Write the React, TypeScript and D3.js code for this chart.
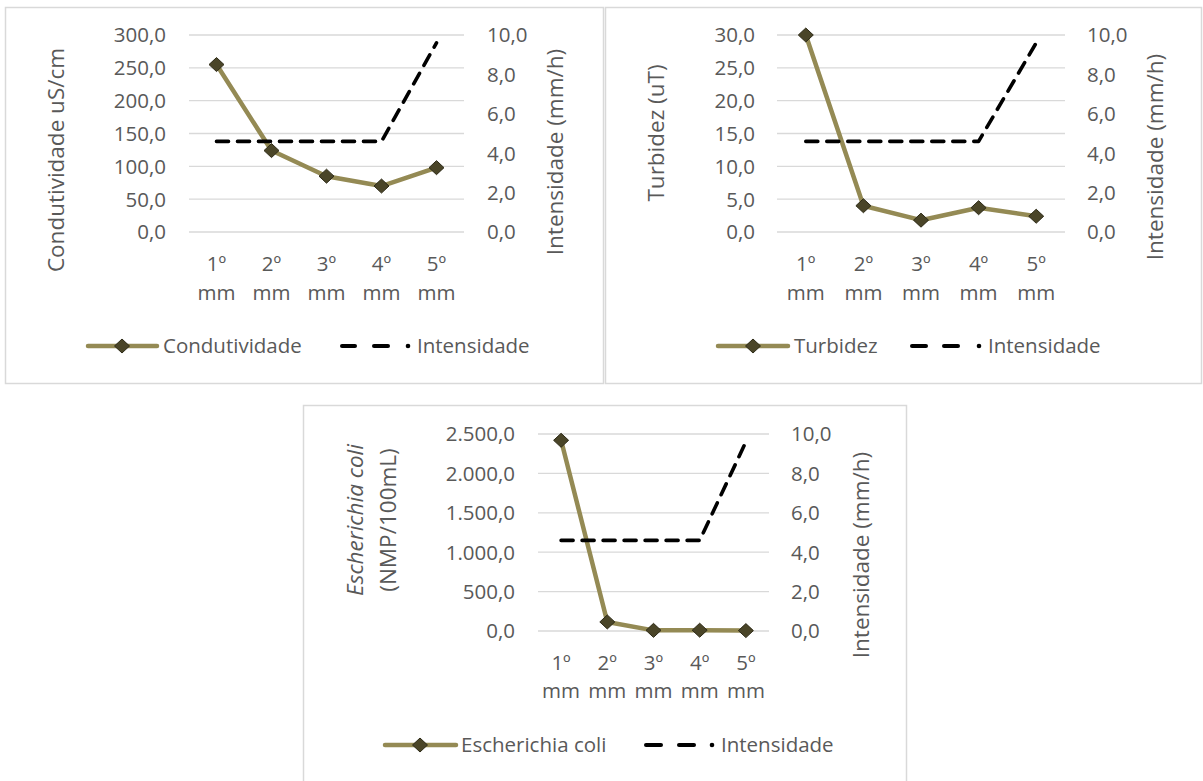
import React from "react";
import * as d3 from "d3";

// Sampling positions (milímetros de chuva)
const categories = ["1º mm", "2º mm", "3º mm", "4º mm", "5º mm"];
// Secondary series shared by every panel
const intensidade = [4.6, 4.6, 4.6, 4.6, 9.6];
const intensidadeTicks = [0, 2, 4, 6, 8, 10];
// Primary series
const condutividade = [255, 124, 85, 70, 98];
const condutividadeTicks = [0, 50, 100, 150, 200, 250, 300];
const turbidez = [30, 4.0, 1.8, 3.7, 2.4];
const turbidezTicks = [0, 5, 10, 15, 20, 25, 30];
const ecoli = [2420, 115, 8, 10, 5];
const ecoliTicks = [0, 500, 1000, 1500, 2000, 2500];

const ptBR = d3.formatLocale({
  decimal: ",",
  thousands: ".",
  grouping: [3],
  currency: ["R$", ""],
});
const fmt = ptBR.format(",.1f");

const FONT = "'Open Sans', 'Noto Sans', sans-serif";
const TEXT = "#595959";
const GRID = "#D9D9D9";
const OLIVE = "#948A54";
const MARK_FILL = "#4A4528";
const MARK_STROKE = "#2E2B18";
const FS = 20.5;
const FS_TITLE = 22.5;

type TitlePart = { text: string; italic?: boolean };

type PanelProps = {
  box: [number, number, number, number];
  plot: { x0: number; x1: number; y0: number; y1: number };
  values: number[];
  ticks: number[];
  leftLabelX: number;
  rightLabelX: number;
  catY: [number, number];
  leftTitle: { x: number; y: number; lines: TitlePart[][]; gap?: number };
  rightTitle: { x: number; y: number };
  legend: {
    y: number;
    lineX: [number, number];
    diamondX: number;
    textX: number;
    dashX: [number, number][];
    dotX: number;
    dashTextX: number;
    name: string;
  };
};

function diamond(cx: number, cy: number, rx = 7.5, ry = 7) {
  return `M${cx},${cy - ry}L${cx + rx},${cy}L${cx},${cy + ry}L${cx - rx},${cy}Z`;
}

function Panel(p: PanelProps) {
  const [bx, by, bw, bh] = p.box;
  const x = d3
    .scaleBand<string>()
    .domain(categories)
    .range([p.plot.x0, p.plot.x1]);
  const yL = d3
    .scaleLinear()
    .domain([0, p.ticks[p.ticks.length - 1]])
    .range([p.plot.y1, p.plot.y0]);
  const yR = d3.scaleLinear().domain([0, 10]).range([p.plot.y1, p.plot.y0]);
  const cx = (c: string) => (x(c) as number) + x.bandwidth() / 2;

  const primary = d3
    .line<number>()
    .x((_, i) => cx(categories[i]))
    .y((d) => yL(d));
  const secondary = d3
    .line<number>()
    .x((_, i) => cx(categories[i]))
    .y((d) => yR(d));

  const gap = p.leftTitle.gap ?? 27;
  const nLines = p.leftTitle.lines.length;

  return (
    <g fontFamily={FONT} fill={TEXT}>
      <rect
        x={bx}
        y={by}
        width={bw}
        height={bh}
        fill="#fff"
        stroke={GRID}
        strokeWidth={1.5}
      />
      {p.ticks.map((t) => (
        <g key={"l" + t}>
          <line
            x1={p.plot.x0}
            x2={p.plot.x1}
            y1={yL(t)}
            y2={yL(t)}
            stroke={GRID}
            strokeWidth={1.3}
          />
          <text
            x={p.leftLabelX}
            y={yL(t)}
            dy="0.36em"
            textAnchor="end"
            fontSize={FS}
          >
            {fmt(t)}
          </text>
        </g>
      ))}
      {intensidadeTicks.map((t) => (
        <text
          key={"r" + t}
          x={p.rightLabelX}
          y={yR(t)}
          dy="0.36em"
          fontSize={FS}
        >
          {fmt(t)}
        </text>
      ))}
      {categories.map((c) => {
        const [a, b] = c.split(" ");
        return (
          <g key={c} textAnchor="middle" fontSize={FS}>
            <text x={cx(c)} y={p.catY[0]}>
              {a}
            </text>
            <text x={cx(c)} y={p.catY[1]}>
              {b}
            </text>
          </g>
        );
      })}
      <text
        transform={`translate(${p.leftTitle.x},${p.leftTitle.y}) rotate(-90)`}
        textAnchor="middle"
        fontSize={FS_TITLE}
      >
        {p.leftTitle.lines.map((ln, i) => (
          <tspan key={i} x={0} y={i * gap - (nLines - 1) * gap * 0.5}>
            {ln.map((part, j) => (
              <tspan key={j} fontStyle={part.italic ? "italic" : "normal"}>
                {part.text}
              </tspan>
            ))}
          </tspan>
        ))}
      </text>
      <text
        transform={`translate(${p.rightTitle.x},${p.rightTitle.y}) rotate(-90)`}
        textAnchor="middle"
        fontSize={FS_TITLE}
      >
        Intensidade (mm/h)
      </text>

      <path
        d={primary(p.values) as string}
        fill="none"
        stroke={OLIVE}
        strokeWidth={4.5}
        strokeLinejoin="round"
      />
      {p.values.map((v, i) => (
        <path
          key={i}
          d={diamond(cx(categories[i]), yL(v))}
          fill={MARK_FILL}
          stroke={MARK_STROKE}
          strokeWidth={1}
        />
      ))}
      <path
        d={secondary(intensidade) as string}
        fill="none"
        stroke="#000"
        strokeWidth={3.6}
        strokeDasharray="12,9"
        strokeLinecap="round"
        strokeLinejoin="round"
      />

      {/* legend */}
      <line
        x1={p.legend.lineX[0]}
        x2={p.legend.lineX[1]}
        y1={p.legend.y}
        y2={p.legend.y}
        stroke={OLIVE}
        strokeWidth={4.5}
        strokeLinecap="round"
      />
      <path
        d={diamond(p.legend.diamondX, p.legend.y)}
        fill={MARK_FILL}
        stroke={MARK_STROKE}
        strokeWidth={1}
      />
      <text x={p.legend.textX} y={p.legend.y} dy="0.36em" fontSize={FS}>
        {p.legend.name}
      </text>
      {p.legend.dashX.map(([a, b], i) => (
        <line
          key={i}
          x1={a}
          x2={b}
          y1={p.legend.y}
          y2={p.legend.y}
          stroke="#000"
          strokeWidth={4}
          strokeLinecap="round"
        />
      ))}
      <circle cx={p.legend.dotX} cy={p.legend.y} r={2.3} fill="#000" />
      <text x={p.legend.dashTextX} y={p.legend.y} dy="0.36em" fontSize={FS}>
        Intensidade
      </text>
    </g>
  );
}

export default function App() {
  return (
    <svg
      width={1203}
      height={781}
      style={{ position: "absolute", left: 0, top: 0, display: "block" }}
    >
      <rect width={1203} height={781} fill="#fff" />
      <Panel
        box={[5.5, 7.5, 598, 376]}
        plot={{ x0: 189, x1: 464, y0: 35, y1: 232 }}
        values={condutividade}
        ticks={condutividadeTicks}
        leftLabelX={166}
        rightLabelX={487}
        catY={[271, 300]}
        leftTitle={{ x: 64, y: 160, lines: [[{ text: "Condutividade uS/cm" }]] }}
        rightTitle={{ x: 563, y: 152 }}
        legend={{
          y: 346,
          lineX: [88, 157],
          diamondX: 122,
          textX: 163,
          dashX: [
            [342, 355],
            [374, 388],
          ],
          dotX: 408,
          dashTextX: 417,
          name: "Condutividade",
        }}
      />
      <Panel
        box={[605.5, 7.5, 596, 376]}
        plot={{ x0: 777, x1: 1065, y0: 35, y1: 232 }}
        values={turbidez}
        ticks={turbidezTicks}
        leftLabelX={755}
        rightLabelX={1087}
        catY={[271, 300]}
        leftTitle={{ x: 664, y: 133, lines: [[{ text: "Turbidez (uT)" }]] }}
        rightTitle={{ x: 1163, y: 157 }}
        legend={{
          y: 346,
          lineX: [718, 788],
          diamondX: 753,
          textX: 794,
          dashX: [
            [912, 926],
            [944, 958],
          ],
          dotX: 979,
          dashTextX: 988,
          name: "Turbidez",
        }}
      />
      <Panel
        box={[303.5, 405.5, 603, 390]}
        plot={{ x0: 538, x1: 769, y0: 434, y1: 631 }}
        values={ecoli}
        ticks={ecoliTicks}
        leftLabelX={515}
        rightLabelX={791}
        catY={[670, 698]}
        leftTitle={{
          x: 379,
          y: 520,
          gap: 33,
          lines: [
            [{ text: "Escherichia coli", italic: true }],
            [{ text: "(NMP/100mL)" }],
          ],
        }}
        rightTitle={{ x: 869, y: 555 }}
        legend={{
          y: 745,
          lineX: [385, 456],
          diamondX: 420,
          textX: 461,
          dashX: [
            [646, 661],
            [679, 694],
          ],
          dotX: 712,
          dashTextX: 721,
          name: "Escherichia coli",
        }}
      />
    </svg>
  );
}
